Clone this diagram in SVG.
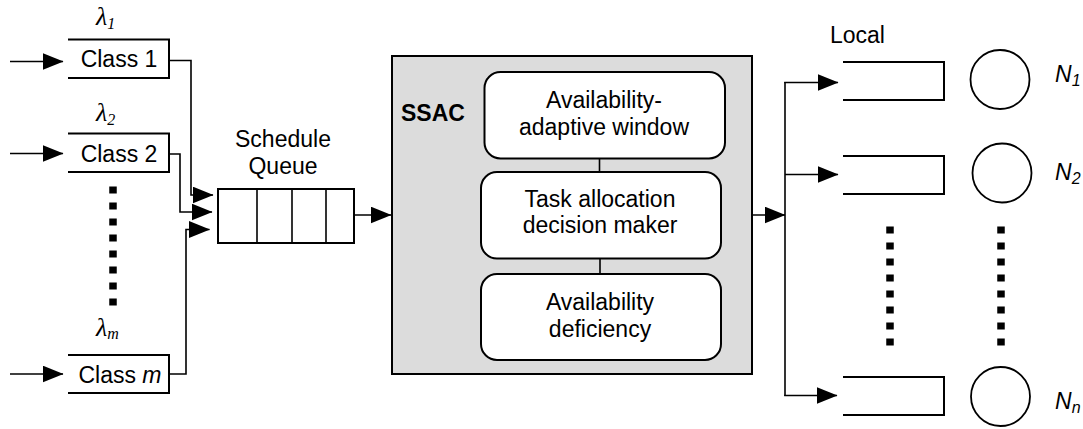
<svg xmlns="http://www.w3.org/2000/svg" width="1083" height="429" viewBox="0 0 1083 429">
  <defs>
    <marker id="arrow" markerUnits="userSpaceOnUse" viewBox="0 0 21 17" markerWidth="21" markerHeight="17" refX="20.5" refY="8.5" orient="auto">
      <path d="M0,0 L21,8.5 L0,17 z" fill="#000"/>
    </marker>
    <style>
      .lbl { font-family: "Liberation Sans", Arial, sans-serif; font-size: 23px; fill: #000; }
      .bold { font-weight: bold; }
      .it { font-style: italic; }
      .greek { font-family: "Liberation Serif", "Times New Roman", serif; font-style: italic; font-size: 26px; fill: #000; }
      .sub { font-size: 16px; }
      .queue { fill: none; stroke: #000; stroke-width: 2; }
      .cell { fill: #fff; stroke: #000; stroke-width: 2; }
      .module { fill: #fff; stroke: #000; stroke-width: 2; }
      .wire { fill: none; stroke: #000; stroke-width: 1.6; }
      .arrow { fill: none; stroke: #000; stroke-width: 1.6; marker-end: url(#arrow); }
      .dots { fill: none; stroke: #000; stroke-width: 7.5; stroke-dasharray: 7 9; }
      .node { fill: #fff; stroke: #000; stroke-width: 1.8; }
    </style>
  </defs>
  <rect width="1083" height="429" fill="#fff"/>

  <!-- incoming job classes -->
  <g id="class1">
    <text class="greek" x="96" y="25">λ<tspan class="sub" dy="4">1</tspan></text>
    <path class="queue" d="M68,39.5 H169 V78 H68"/>
    <text class="lbl" x="119" y="67" text-anchor="middle">Class 1</text>
  </g>
  <g id="class2">
    <text class="greek" x="96" y="121">λ<tspan class="sub" dy="4">2</tspan></text>
    <path class="queue" d="M68,133.5 H169 V172 H68"/>
    <text class="lbl" x="119" y="162" text-anchor="middle">Class 2</text>
  </g>
  <g id="classm">
    <text class="greek" x="96" y="336">λ<tspan class="sub" dy="3">m</tspan></text>
    <path class="queue" d="M68,355 H169 V393 H68"/>
    <text class="lbl" x="120" y="383" text-anchor="middle">Class <tspan class="it">m</tspan></text>
  </g>
  <g id="class-ellipsis">
    <line class="dots" x1="113" y1="186.5" x2="113" y2="306"/>
  </g>

  <!-- shared scheduling queue -->
  <g id="schedule-queue">
    <text class="lbl" x="283" y="147" text-anchor="middle">Schedule</text>
    <text class="lbl" x="283" y="174" text-anchor="middle">Queue</text>
    <rect class="cell" x="218" y="189" width="136" height="54"/>
    <line class="wire" x1="257" y1="189" x2="257" y2="243" stroke-width="2"/>
    <line class="wire" x1="292" y1="189" x2="292" y2="243" stroke-width="2"/>
    <line class="wire" x1="326" y1="189" x2="326" y2="243" stroke-width="2"/>
  </g>

  <!-- scheduler -->
  <g id="ssac">
    <rect x="392" y="56" width="360" height="318" fill="#dcdcdc" stroke="#000" stroke-width="2"/>
    <text class="lbl bold" x="401" y="121">SSAC</text>
  </g>
  <g id="adaptive-window">
    <rect class="module" x="484.5" y="72" width="240.5" height="86.5" rx="16"/>
    <text class="lbl" x="604" y="108" text-anchor="middle">Availability-</text>
    <text class="lbl" x="604" y="135" text-anchor="middle">adaptive window</text>
  </g>
  <g id="decision-maker">
    <rect class="module" x="481" y="172" width="240" height="86.5" rx="16"/>
    <text class="lbl" x="600" y="207" text-anchor="middle">Task allocation</text>
    <text class="lbl" x="600" y="233" text-anchor="middle">decision maker</text>
  </g>
  <g id="deficiency">
    <rect class="module" x="481" y="274" width="240" height="86" rx="16"/>
    <text class="lbl" x="600" y="310" text-anchor="middle">Availability</text>
    <text class="lbl" x="600" y="337" text-anchor="middle">deficiency</text>
  </g>

  <!-- computing nodes with local queues -->
  <g id="local-label">
    <text class="lbl" x="830" y="43">Local</text>
  </g>
  <g id="node1">
    <path class="queue" d="M843,62 H944 V100 H843"/>
    <circle class="node" cx="1000" cy="79.5" r="29.5"/>
    <text class="lbl it" x="1055" y="82">N<tspan class="sub" dy="4">1</tspan></text>
  </g>
  <g id="node2">
    <path class="queue" d="M843,156 H944 V194 H843"/>
    <circle class="node" cx="1002" cy="173" r="29.5"/>
    <text class="lbl it" x="1055" y="180">N<tspan class="sub" dy="4">2</tspan></text>
  </g>
  <g id="noden">
    <path class="queue" d="M843,377 H944 V415 H843"/>
    <circle class="node" cx="1000.5" cy="396.5" r="29.5"/>
    <text class="lbl it" x="1055" y="409">N<tspan class="sub" dy="4">n</tspan></text>
  </g>
  <g id="node-ellipsis">
    <line class="dots" x1="890" y1="226.5" x2="890" y2="346"/>
    <line class="dots" x1="1001" y1="226.5" x2="1001" y2="346"/>
  </g>

  <!-- connectors -->
  <g id="connectors">
    <line class="arrow" x1="10" y1="61.5" x2="63" y2="61.5"/>
    <line class="arrow" x1="10" y1="153.5" x2="63" y2="153.5"/>
    <line class="arrow" x1="10" y1="374" x2="63" y2="374"/>

    <polyline class="arrow" points="169,60.5 191,60.5 191,195 213,195"/>
    <polyline class="arrow" points="169,154 180,154 180,212 212,212"/>
    <polyline class="arrow" points="169,374 186,374 186,229.5 209.5,229.5"/>

    <line class="arrow" x1="354" y1="215" x2="391" y2="215"/>

    <line class="wire" x1="599.5" y1="158.5" x2="599.5" y2="172"/>
    <line class="wire" x1="600" y1="258.5" x2="600" y2="274"/>

    <line class="arrow" x1="752" y1="215" x2="785" y2="215"/>
    <line class="wire" x1="785" y1="82" x2="785" y2="396"/>
    <line class="arrow" x1="784.2" y1="82.5" x2="838" y2="82.5"/>
    <line class="arrow" x1="785" y1="174.5" x2="838" y2="174.5"/>
    <line class="arrow" x1="784.2" y1="395.5" x2="837" y2="395.5"/>
  </g>
</svg>
